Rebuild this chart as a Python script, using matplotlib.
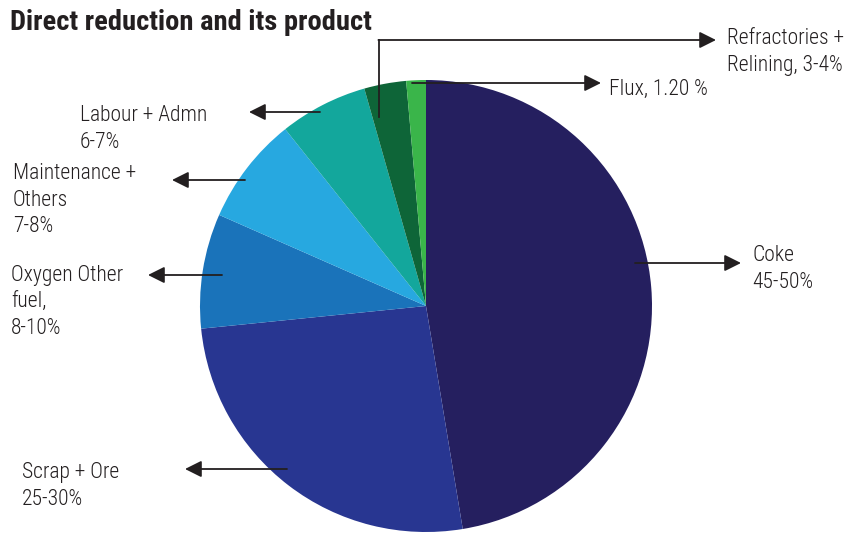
import matplotlib.pyplot as plt

# slice data, clockwise from 12 o'clock
shares = [47.4, 26.0, 8.2, 7.7, 6.3, 3.0, 1.4]
names = ['Coke', 'Scrap + Ore', 'Oxygen Other fuel', 'Maintenance + Others',
         'Labour + Admn', 'Refractories + Relining', 'Flux']
labels = ['Coke\n45-50%', 'Scrap + Ore\n25-30%', 'Oxygen Other\nfuel,\n8-10%',
          'Maintenance +\nOthers\n7-8%', 'Labour + Admn\n6-7%',
          'Refractories +\nRelining, 3-4%', 'Flux, 1.20 %']
colors = ['#251f5f', '#283691', '#1a73ba', '#27a8e0', '#13a79c', '#0e6538', '#3ab54a']

fam = ['Roboto Condensed', 'DejaVu Sans']
ink = '#231f20'

W, H = 864, 533
fig = plt.figure(figsize=(W / 100, H / 100), dpi=100)
ax = fig.add_axes([0, 0, 1, 1])

# pie in pixel coords (y axis flipped -> counterclock gives clockwise on screen)
ax.pie(shares, colors=colors, startangle=-90, counterclock=True,
       center=(426, 306), radius=226, frame=True,
       wedgeprops=dict(linewidth=0))
ax.set_xlim(0, W)
ax.set_ylim(H, 0)
ax.set_aspect('equal')
ax.axis('off')

arrow = dict(arrowstyle='-|>,head_length=1.0,head_width=0.5', color=ink,
             lw=1.3, shrinkA=0, shrinkB=0)

# (line start, arrow tip, text pos)
anno = {
    'Coke': ((635, 263), (741, 263), (752, 269)),
    'Scrap + Ore': ((287, 469), (185, 469), (22, 486)),
    'Oxygen Other fuel': ((222, 275), (148, 275), (11, 302)),
    'Maintenance + Others': ((245, 180), (172, 180), (13, 200)),
    'Labour + Admn': ((320, 112), (249, 112), (80, 129)),
    'Flux': ((412, 83), (601, 83), (609, 89)),
}
tkw = dict(fontsize=15.5, family=fam, weight='light', color=ink,
           va='center', ha='left', linespacing=1.32)
for nm, lab in zip(names, labels):
    if nm == 'Refractories + Relining':
        ax.plot([379, 379], [117, 40], color=ink, lw=1.3)
        ax.annotate('', xy=(716, 40), xytext=(378.4, 40), arrowprops=arrow)
        ax.text(727, 52, lab, **tkw)
        continue
    p0, p1, tp = anno[nm]
    ax.annotate('', xy=p1, xytext=p0, arrowprops=arrow)
    ax.text(tp[0], tp[1], lab, **tkw)

ax.text(10, 22, 'Direct reduction and its product', fontsize=20.5, family=fam,
        weight='bold', color=ink, va='center', ha='left')

fig.savefig('out.png', dpi=100)
